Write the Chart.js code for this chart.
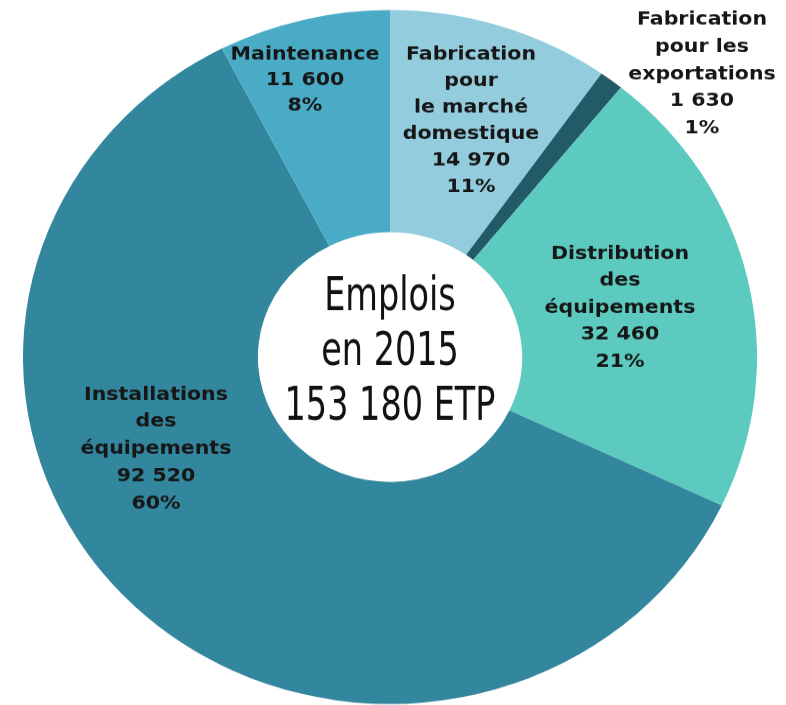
<!DOCTYPE html>
<html>
<head>
<meta charset="utf-8">
<script src="https://cdn.jsdelivr.net/npm/chart.js@4"></script>
<style>
  html, body { margin: 0; padding: 0; background: #fff; overflow: hidden; }
  #wrap { width: 786px; height: 705px; overflow: hidden; }
  #c { display: block; transform: scaleY(0.9455); transform-origin: 0 0; }
</style>
</head>
<body>
<div id="wrap"><canvas id="c" width="786" height="756"></canvas></div>
<script>
// ---- data ----
const categories = [
  ["Fabrication", "pour", "le marché", "domestique"],
  ["Fabrication", "pour les", "exportations"],
  ["Distribution", "des", "équipements"],
  ["Installations", "des", "équipements"],
  ["Maintenance"]
];
const jobs = [14970, 1630, 32460, 92520, 11600];
const jobLabels = ["14 970", "1 630", "32 460", "92 520", "11 600"];
const shares = ["11%", "1%", "21%", "60%", "8%"];
const centerLines = ["Emplois", "en 2015", "153 180 ETP"];

// ---- style / layout (kept apart from data) ----
const colors = ["#93CCDD", "#225A68", "#5DCABF", "#32869D", "#4AABC6"];
const SY = 0.9455; // vertical squash applied via CSS
// label anchor (screen coords): x, first line y, line step
const labelLayout = [
  { x: 471, y: 55, step: 26.4 },
  { x: 702, y: 20, step: 27.2 },
  { x: 620, y: 254, step: 27.0 },
  { x: 156, y: 395, step: 27.2 },
  { x: 305, y: 55, step: 25.5 }
];
const centerLayout = { x: 390, y: 298, step: 55 };

const labelPlugin = {
  id: 'labels',
  afterDraw(chart) {
    const ctx = chart.ctx;
    ctx.save();
    ctx.fillStyle = '#161616';
    ctx.textAlign = 'center';
    ctx.textBaseline = 'middle';
    ctx.font = 'bold 19px "DejaVu Sans", sans-serif';
    categories.forEach((cat, i) => {
      const lines = cat.concat([jobLabels[i], shares[i]]);
      const L = labelLayout[i];
      lines.forEach((t, k) => {
        ctx.save();
        ctx.translate(L.x, (L.y + k * L.step) / SY);
        ctx.scale(1.08, 1);
        ctx.fillText(t, 0, 0);
        ctx.restore();
      });
    });
    ctx.fillStyle = '#111';
    ctx.font = '49px "DejaVu Sans Condensed", "DejaVu Sans", sans-serif';
    centerLines.forEach((t, k) => {
      ctx.save();
      ctx.translate(centerLayout.x, (centerLayout.y + k * centerLayout.step) / SY);
      ctx.scale(0.76, 1);
      ctx.fillText(t, 0, 0);
      ctx.restore();
    });
    ctx.restore();
  }
};

new Chart(document.getElementById('c'), {
  type: 'doughnut',
  data: {
    labels: categories.map(c => c.join(' ')),
    datasets: [{
      data: jobs,
      backgroundColor: colors,
      borderWidth: 0,
      offset: 0,
      hoverOffset: 0,
      spacing: 0
    }]
  },
  options: {
    responsive: false,
    devicePixelRatio: 1,
    animation: false,
    cutout: '36%',
    rotation: 0,
    layout: { padding: { left: 23, right: 29, top: 10.6, bottom: 11.4 } },
    plugins: {
      legend: { display: false },
      tooltip: { enabled: false }
    },
    events: []
  },
  plugins: [labelPlugin]
});
</script>
</body>
</html>
